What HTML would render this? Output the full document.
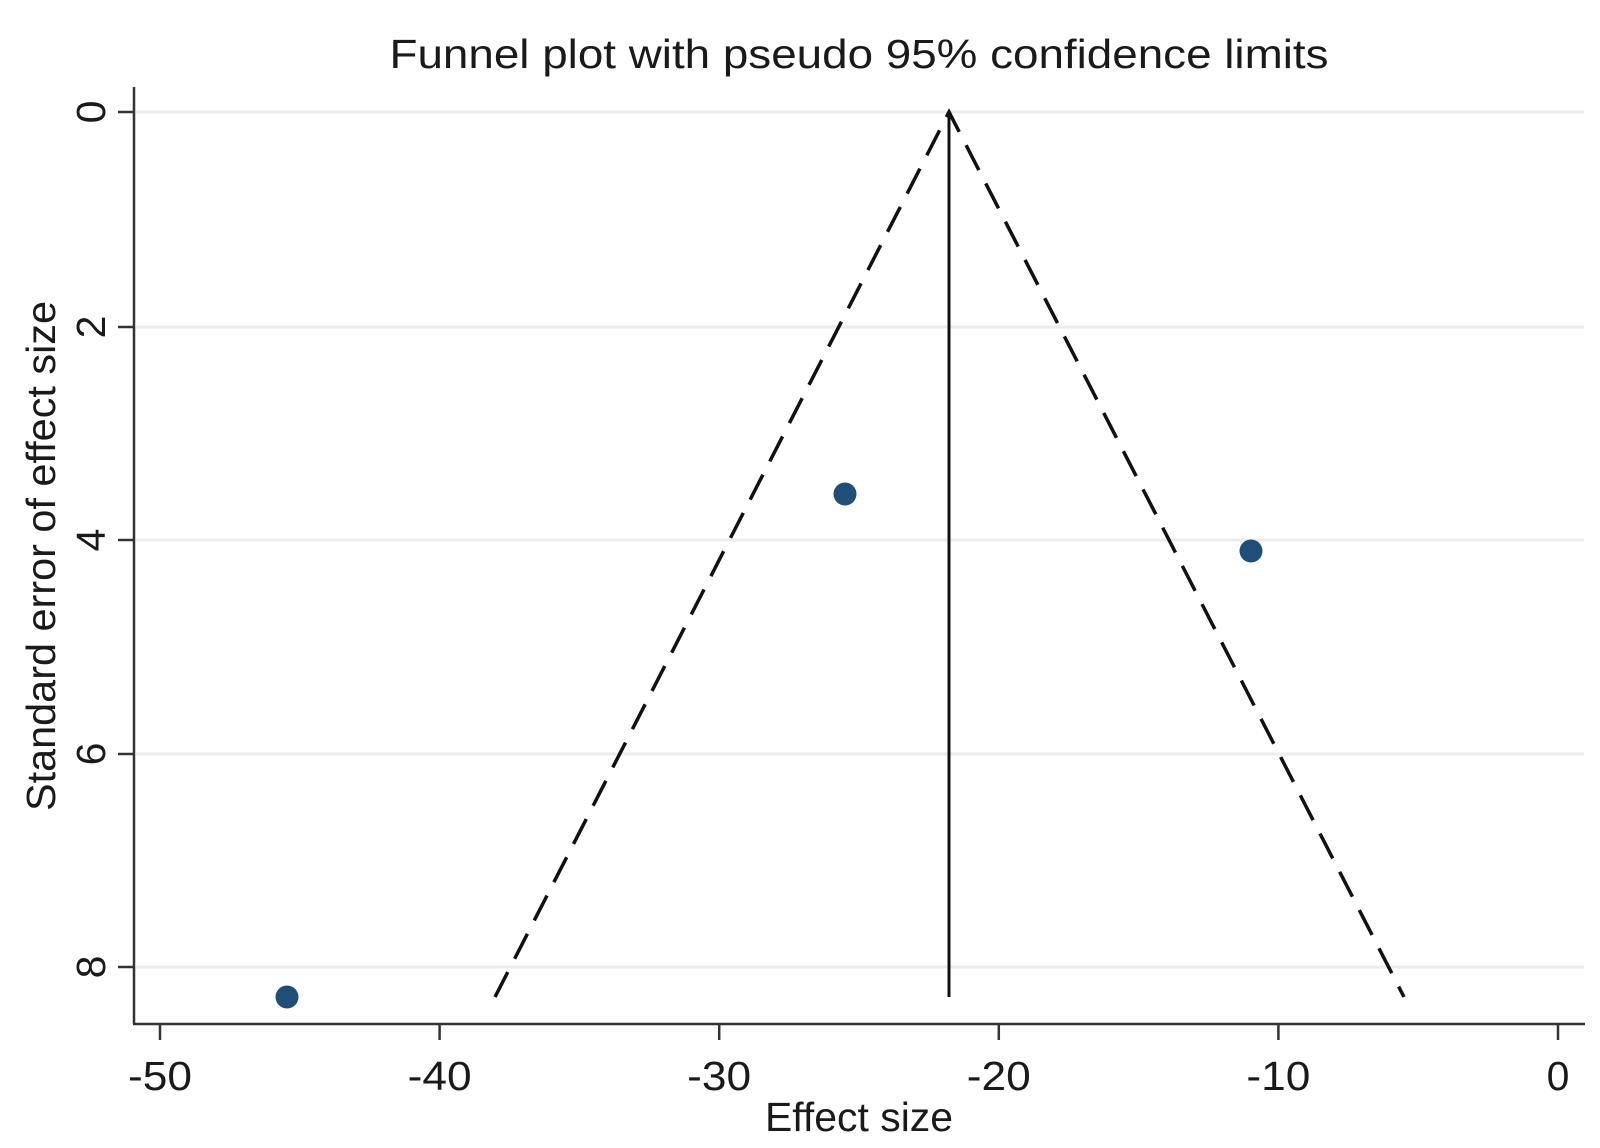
<!DOCTYPE html>
<html><head><meta charset="utf-8"><style>html,body{margin:0;padding:0;background:#fff}svg{display:block}</style></head>
<body>
<svg width="1600" height="1148" viewBox="0 0 1600 1148" xmlns="http://www.w3.org/2000/svg" font-family="Liberation Sans, Arial, sans-serif" fill="#1a1a1a">
<rect width="1600" height="1148" fill="#fff"/>
<text x="859" y="68" font-size="41" text-anchor="middle" textLength="939" lengthAdjust="spacingAndGlyphs">Funnel plot with pseudo 95% confidence limits</text>
<g stroke="#ececec" stroke-width="3">
<line x1="136" y1="112" x2="1584" y2="112"/>
<line x1="136" y1="327" x2="1584" y2="327"/>
<line x1="136" y1="540" x2="1584" y2="540"/>
<line x1="136" y1="754" x2="1584" y2="754"/>
<line x1="136" y1="967" x2="1584" y2="967"/>
</g>
<g stroke="#333" stroke-width="2.5" fill="none">
<line x1="134" y1="87" x2="134" y2="1024"/>
<line x1="133" y1="1024" x2="1585" y2="1024"/>
<line x1="118" y1="112" x2="134" y2="112"/>
<line x1="118" y1="327" x2="134" y2="327"/>
<line x1="118" y1="540" x2="134" y2="540"/>
<line x1="118" y1="754" x2="134" y2="754"/>
<line x1="118" y1="967" x2="134" y2="967"/>
<line x1="160" y1="1024" x2="160" y2="1040"/>
<line x1="439.6" y1="1024" x2="439.6" y2="1040"/>
<line x1="719.2" y1="1024" x2="719.2" y2="1040"/>
<line x1="998.8" y1="1024" x2="998.8" y2="1040"/>
<line x1="1278.4" y1="1024" x2="1278.4" y2="1040"/>
<line x1="1558" y1="1024" x2="1558" y2="1040"/>
</g>
<g stroke="#111" fill="none">
<line x1="949" y1="112" x2="949" y2="997" stroke-width="3"/>
<polyline points="495,997 949,112 1404,997" stroke-dasharray="28,15" stroke-width="3.5"/>
</g>
<g fill="#1f4e79">
<circle cx="287" cy="997" r="11.5"/>
<circle cx="845" cy="494" r="11.5"/>
<circle cx="1251" cy="551" r="11.5"/>
</g>
<g font-size="41" text-anchor="middle">
<text x="160" y="1090" textLength="64" lengthAdjust="spacingAndGlyphs">-50</text>
<text x="439.6" y="1090" textLength="64" lengthAdjust="spacingAndGlyphs">-40</text>
<text x="719.2" y="1090" textLength="64" lengthAdjust="spacingAndGlyphs">-30</text>
<text x="998.8" y="1090" textLength="64" lengthAdjust="spacingAndGlyphs">-20</text>
<text x="1278.4" y="1090" textLength="64" lengthAdjust="spacingAndGlyphs">-10</text>
<text x="1558" y="1090">0</text>
<text x="859" y="1131" textLength="188" lengthAdjust="spacingAndGlyphs">Effect size</text>
</g>
<g font-size="41" text-anchor="middle">
<text transform="translate(105,112) rotate(-90)">0</text>
<text transform="translate(105,327) rotate(-90)">2</text>
<text transform="translate(105,540) rotate(-90)">4</text>
<text transform="translate(105,754) rotate(-90)">6</text>
<text transform="translate(105,967) rotate(-90)">8</text>
<text transform="translate(55,556) rotate(-90)" textLength="510" lengthAdjust="spacingAndGlyphs">Standard error of effect size</text>
</g>
</svg>
</body></html>
